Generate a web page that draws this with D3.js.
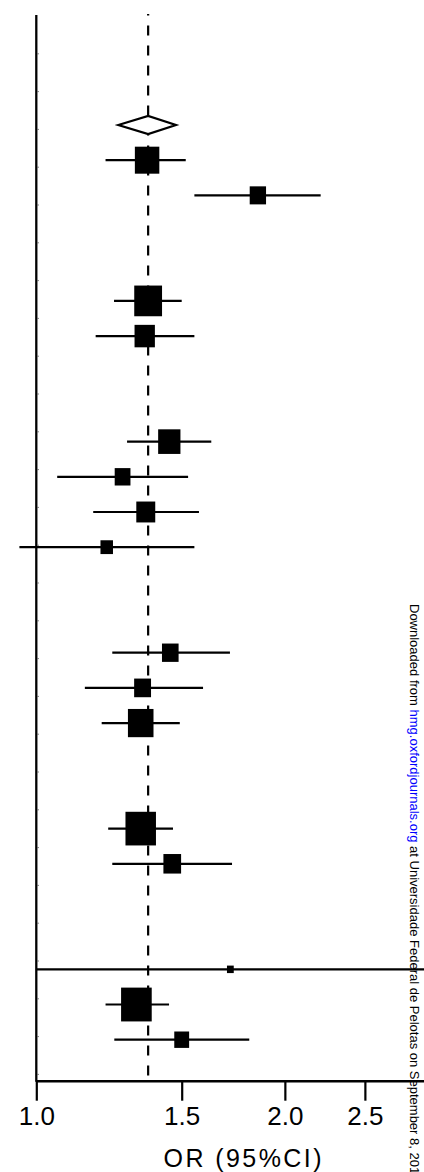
<!DOCTYPE html>
<html><head><meta charset="utf-8">
<script src="https://cdn.jsdelivr.net/npm/d3@7"></script>
<style>body{margin:0;background:#fff} svg{display:block}</style>
</head><body>
<svg id="c" width="424" height="1172"></svg>
<script>
// ---- data ----
const rowIndex = [1,2,5,6,9,10,11,12,15,16,17,20,21,24,25,26];
const orValues = [1.362,1.855,1.366,1.353,1.449,1.272,1.357,1.217,1.453,1.345,1.338,1.338,1.461,1.718,1.322,1.500];
const ciLower  = [1.213,1.554,1.242,1.180,1.288,1.060,1.172,0.954,1.236,1.145,1.200,1.222,1.236,1.000,1.213,1.243];
const ciUpper  = [1.517,2.210,1.500,1.554,1.629,1.527,1.574,1.554,1.716,1.592,1.492,1.464,1.726,3.500,1.448,1.811];
const weights  = [6.5,2.9,8.4,4.5,5.4,2.7,3.9,1.7,3.0,3.1,7.1,10.1,3.4,0.5,10.2,2.4];
const pooledRow = 0;
const pooledOR = 1.366;
const pooledCI = [1.257, 1.476];
const tickValues = [1.0, 1.5, 2.0, 2.5];
const axisTitle = "OR (95%CI)";
const watermarkParts = [
  {t:"Downloaded from ", link:false},
  {t:"hmg.oxfordjournals.org", link:true},
  {t:" at Universidade Federal de Pelotas on September 8, 2011", link:false}
];

// ---- layout ----
const FONT = "'Liberation Sans', Arial, Helvetica, sans-serif";
const svg = d3.select("#c");
const x0 = 36.3, pxPerLn = 358.6;
const x = d3.scaleLog().domain([1, 3]).range([x0, x0 + pxPerLn * Math.log(3)]);
const y = d3.scaleLinear().domain([0, 26]).range([125, 1039.7]);
const side = d3.scaleSqrt().domain([0, 10]).range([0, 31.6]);
const axisY = 1080.7, axisTop = 15;

svg.append("rect").attr("width",424).attr("height",1172).attr("fill","#fff");

// watermark (drawn beneath)
const wm = svg.append("text")
  .attr("transform","translate(410,604) rotate(90)")
  .attr("font-family", FONT).attr("font-size", 13).attr("fill","#000");
wm.selectAll("tspan").data(watermarkParts).join("tspan")
  .attr("fill", d => d.link ? "#0000ff" : "#000")
  .text(d => d.t);

// left axis line + tiny ticks
svg.append("line").attr("x1",x0).attr("x2",x0).attr("y1",axisTop).attr("y2",axisY+1)
  .attr("stroke","#000").attr("stroke-width",2.3);
const yt = d3.scaleLinear().domain([0,28]).range([15.5, 1073.9]);
const ytAxis = svg.append("g").attr("transform",`translate(${x0+1},0)`)
  .call(d3.axisRight(yt).tickValues(d3.range(1,29)).tickSize(1.5).tickFormat(""));
ytAxis.select(".domain").remove();
ytAxis.selectAll(".tick line").attr("stroke","#666").attr("stroke-width",1);

// reference dashed line
svg.append("line")
  .attr("x1",x(pooledOR)).attr("x2",x(pooledOR))
  .attr("y1",14).attr("y2",axisY)
  .attr("stroke","#000").attr("stroke-width",2.2)
  .attr("stroke-dasharray","10,10").attr("stroke-dashoffset",8.5);

// bottom axis
const gx = svg.append("g").attr("transform",`translate(0,${axisY})`)
  .call(d3.axisBottom(x).tickValues(tickValues).tickFormat(d3.format(".1f"))
    .tickSize(20).tickSizeOuter(0).tickPadding(6));
gx.select(".domain").attr("stroke","#000").attr("stroke-width",2.5);
gx.selectAll(".tick line").attr("stroke","#000").attr("stroke-width",2.2);
gx.selectAll(".tick text").attr("font-family",FONT).attr("font-size",26).attr("fill","#000");

svg.append("text").attr("x",242.5).attr("y",1166.7)
  .attr("text-anchor","middle").attr("font-family",FONT).attr("font-size",25)
  .attr("textLength",158).attr("lengthAdjust","spacing")
  .text(axisTitle);

// study rows
const rows = rowIndex.map((r,i) => ({r, or:orValues[i], lo:ciLower[i], hi:ciUpper[i], w:weights[i]}));
svg.append("g").selectAll("line").data(rows).join("line")
  .attr("x1", d => x(d.lo)).attr("x2", d => x(d.hi))
  .attr("y1", d => y(d.r)).attr("y2", d => y(d.r))
  .attr("stroke","#000").attr("stroke-width",2.2);
svg.append("g").selectAll("rect").data(rows).join("rect")
  .attr("x", d => x(d.or) - side(d.w)*0.96/2)
  .attr("y", d => y(d.r) - side(d.w)*1.06/2)
  .attr("width", d => side(d.w)*0.96)
  .attr("height", d => side(d.w)*1.06)
  .attr("fill","#000");

// pooled diamond
const py = y(pooledRow), hh = 9;
svg.append("path")
  .attr("d", `M${x(pooledCI[0])},${py}L${x(pooledOR)},${py-hh}L${x(pooledCI[1])},${py}L${x(pooledOR)},${py+hh}Z`)
  .attr("fill","#fff").attr("stroke","#000").attr("stroke-width",2.2);
</script>
</body></html>
